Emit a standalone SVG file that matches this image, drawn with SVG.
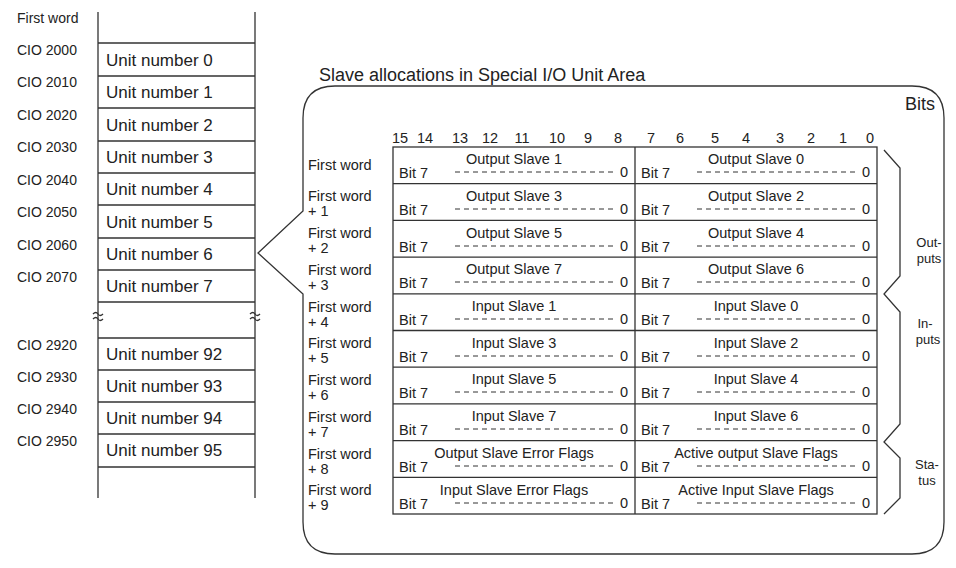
<svg xmlns="http://www.w3.org/2000/svg" width="956" height="568" viewBox="0 0 956 568">
<style>
text{font-family:"Liberation Sans",Arial,sans-serif;fill:#222}
.s{font-size:14px}.u{font-size:17px}.t{font-size:14.5px}.m{text-anchor:middle}.e{text-anchor:end}.b{font-size:13px}
.l{stroke:#333;stroke-width:1.3;fill:none}.d{stroke:#333;stroke-width:1;stroke-dasharray:5,4}
</style>
<rect width="956" height="568" fill="#fff"/>
<g id="unit-table">
<path class="l" d="M98 12V498M255 12V498M98 43H255M98 76H255M98 108H255M98 141H255M98 173H255M98 205H255M98 238H255M98 270H255M98 302H255M98 338H255M98 370H255M98 402H255M98 434H255M98 467H255"/>
<path class="l" d="M93 314q3-3 5 0t5 0M93 319q3-3 5 0t5 0M250 314q3-3 5 0t5 0M250 319q3-3 5 0t5 0" stroke-width="1"/>
<g class="s"><text x="17" y="23">First word</text><text x="17" y="55">CIO 2000</text><text x="17" y="87">CIO 2010</text><text x="17" y="120">CIO 2020</text><text x="17" y="152">CIO 2030</text><text x="17" y="185">CIO 2040</text><text x="17" y="217">CIO 2050</text><text x="17" y="250">CIO 2060</text><text x="17" y="282">CIO 2070</text><text x="17" y="350">CIO 2920</text><text x="17" y="382">CIO 2930</text><text x="17" y="414">CIO 2940</text><text x="17" y="446">CIO 2950</text></g>
<g class="u"><text x="106" y="66">Unit number 0</text><text x="106" y="98">Unit number 1</text><text x="106" y="131">Unit number 2</text><text x="106" y="163">Unit number 3</text><text x="106" y="195">Unit number 4</text><text x="106" y="228">Unit number 5</text><text x="106" y="260">Unit number 6</text><text x="106" y="292">Unit number 7</text><text x="106" y="360">Unit number 92</text><text x="106" y="392">Unit number 93</text><text x="106" y="424">Unit number 94</text><text x="106" y="456">Unit number 95</text></g>
</g>
<text x="319" y="81" style="font-size:18px">Slave allocations in Special I/O Unit Area</text>
<g id="callout">
<path class="l" d="M303 211V118Q303 86 335 86H912Q944 86 944 118V522Q944 554 912 554H335Q303 554 303 522V294L258 253Z"/>
</g>
<text x="905" y="110" style="font-size:18px">Bits</text>
<g class="t m">
<text x="400" y="143">15</text><text x="425" y="143">14</text><text x="460" y="143">13</text><text x="490" y="143">12</text><text x="522" y="143">11</text><text x="557" y="143">10</text><text x="588" y="143">9</text><text x="618" y="143">8</text>
<text x="651" y="143">7</text><text x="680" y="143">6</text><text x="715" y="143">5</text><text x="746" y="143">4</text><text x="780" y="143">3</text><text x="811" y="143">2</text><text x="843" y="143">1</text><text x="870" y="143">0</text>
</g>
<g id="slave-table">
<rect class="l" x="393" y="147" width="484" height="367"/>
<path class="l" d="M635 147V514M393 183.7H877M393 220.4H877M393 257.1H877M393 293.8H877M393 330.5H877M393 367.2H877M393 403.9H877M393 440.6H877M393 477.3H877" stroke-width="1"/>
<g class="t">
<text x="308" y="170">First word</text>
<text x="308" y="201">First word</text><text x="308" y="216">+ 1</text>
<text x="308" y="238">First word</text><text x="308" y="253">+ 2</text>
<text x="308" y="275">First word</text><text x="308" y="290">+ 3</text>
<text x="308" y="312">First word</text><text x="308" y="327">+ 4</text>
<text x="308" y="348">First word</text><text x="308" y="363">+ 5</text>
<text x="308" y="385">First word</text><text x="308" y="400">+ 6</text>
<text x="308" y="422">First word</text><text x="308" y="437">+ 7</text>
<text x="308" y="459">First word</text><text x="308" y="474">+ 8</text>
<text x="308" y="495">First word</text><text x="308" y="510">+ 9</text>
</g>
<g class="t m">
<text x="514" y="164">Output Slave 1</text><text x="756" y="164">Output Slave 0</text>
<text x="514" y="201">Output Slave 3</text><text x="756" y="201">Output Slave 2</text>
<text x="514" y="238">Output Slave 5</text><text x="756" y="238">Output Slave 4</text>
<text x="514" y="274">Output Slave 7</text><text x="756" y="274">Output Slave 6</text>
<text x="514" y="311">Input Slave 1</text><text x="756" y="311">Input Slave 0</text>
<text x="514" y="348">Input Slave 3</text><text x="756" y="348">Input Slave 2</text>
<text x="514" y="384">Input Slave 5</text><text x="756" y="384">Input Slave 4</text>
<text x="514" y="421">Input Slave 7</text><text x="756" y="421">Input Slave 6</text>
<text x="514" y="458">Output Slave Error Flags</text><text x="756" y="458">Active output Slave Flags</text>
<text x="514" y="495">Input Slave Error Flags</text><text x="756" y="495">Active Input Slave Flags</text>
</g>
<g class="t">
<text x="399" y="178">Bit 7</text><text x="641" y="178">Bit 7</text>
<text x="399" y="215">Bit 7</text><text x="641" y="215">Bit 7</text>
<text x="399" y="252">Bit 7</text><text x="641" y="252">Bit 7</text>
<text x="399" y="288">Bit 7</text><text x="641" y="288">Bit 7</text>
<text x="399" y="325">Bit 7</text><text x="641" y="325">Bit 7</text>
<text x="399" y="362">Bit 7</text><text x="641" y="362">Bit 7</text>
<text x="399" y="398">Bit 7</text><text x="641" y="398">Bit 7</text>
<text x="399" y="435">Bit 7</text><text x="641" y="435">Bit 7</text>
<text x="399" y="472">Bit 7</text><text x="641" y="472">Bit 7</text>
<text x="399" y="509">Bit 7</text><text x="641" y="509">Bit 7</text>
</g>
<g class="t e">
<text x="628" y="177">0</text><text x="870" y="177">0</text>
<text x="628" y="214">0</text><text x="870" y="214">0</text>
<text x="628" y="251">0</text><text x="870" y="251">0</text>
<text x="628" y="287">0</text><text x="870" y="287">0</text>
<text x="628" y="324">0</text><text x="870" y="324">0</text>
<text x="628" y="361">0</text><text x="870" y="361">0</text>
<text x="628" y="397">0</text><text x="870" y="397">0</text>
<text x="628" y="434">0</text><text x="870" y="434">0</text>
<text x="628" y="471">0</text><text x="870" y="471">0</text>
<text x="628" y="508">0</text><text x="870" y="508">0</text>
</g>
<path class="d" d="M455 172H617M697 172H859M455 209H617M697 209H859M455 246H617M697 246H859M455 282H617M697 282H859M455 319H617M697 319H859M455 356H617M697 356H859M455 392H617M697 392H859M455 429H617M697 429H859M455 466H617M697 466H859M455 503H617M697 503H859"/>
</g>
<g id="braces">
<path class="l" stroke-width="1" d="M884 150L900 168V276L884 294L900 312V424L884 442L900 458V498L884 514"/>
</g>
<g class="b m">
<text x="929" y="247">Out-</text><text x="929" y="263">puts</text>
<text x="925" y="328">In-</text><text x="928" y="344">puts</text>
<text x="927" y="469">Sta-</text><text x="927" y="485">tus</text>
</g>
</svg>
